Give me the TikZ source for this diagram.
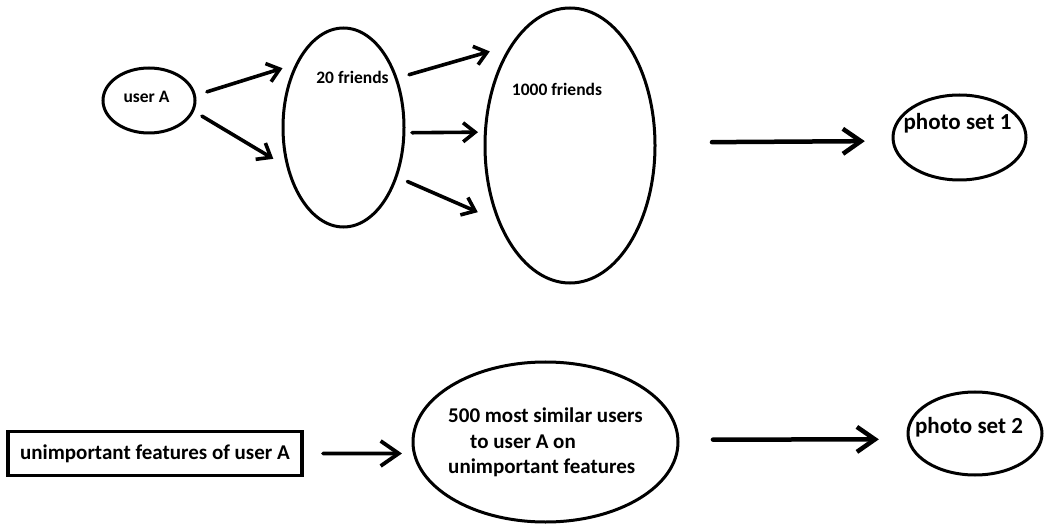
\documentclass[tikz,border=0pt]{standalone}
\usepackage{fontspec}
\setmainfont{Carlito}
\usetikzlibrary{shapes.geometric,arrows.meta}
\tikzset{
  ell/.style={ellipse, draw, line width=3bp, inner sep=0pt, outer sep=0pt},
  boxnode/.style={rectangle, draw, line width=3.5bp, inner sep=0pt, outer sep=0pt,
    font=\bfseries\fontsize{21bp}{25bp}\selectfont},
  lblsmall/.style={inner sep=0pt, font=\bfseries\fontsize{17.5bp}{21bp}\selectfont},
  lblbig/.style={inner sep=0pt, font=\bfseries\fontsize{23bp}{27bp}\selectfont},
  lblmid/.style={inner sep=0pt, align=left, font=\bfseries\fontsize{21bp}{25.5bp}\selectfont},
  sarr/.style={line width=3.6bp, line cap=round, -{Straight Barb[length=12bp,width=19bp]}},
  barr/.style={line width=4.5bp, line cap=round, -{Straight Barb[length=18bp,width=25bp]}}
}
\begin{document}
\begin{tikzpicture}[x=1bp,y=-1bp]
\useasboundingbox (0,0) rectangle (1044,525);
% shapes
\node[ell, minimum width=92bp, minimum height=65bp] (ua) at (149,100.5) {};
\node[ell, minimum width=121bp, minimum height=199bp] (f20) at (343.5,127.5) {};
\node[ell, minimum width=170bp, minimum height=275bp] (f1000) at (570,145.5) {};
\node[ell, minimum width=133bp, minimum height=85bp] (ps1) at (959.5,137.5) {};
\node[boxnode, minimum width=294bp, minimum height=44bp] (rect) at (155,453.5) {unimportant features of user A};
\node[ell, minimum width=265bp, minimum height=160bp] (e500) at (545.5,442) {};
\node[ell, minimum width=134bp, minimum height=83bp] (ps2) at (975,433.5) {};
% labels
\node[lblsmall] (tua) at (146.5,96.7) {user A};
\node[lblsmall] (t20) at (352.5,77) {20 friends};
\node[lblsmall] (t1000) at (557,89) {1000 friends};
\node[lblbig] (tps1) at (957.5,123) {photo set 1};
\node[lblbig] (tps2) at (969,427) {photo set 2};
\node[lblmid] (t500) at (545.5,442.5) {500 most similar users\\\hspace*{22bp}to user A on\\unimportant features};
% connectors
\draw[sarr, shorten <=13bp, shorten >=15.3bp] (ua.6) -- (f20.126);
\draw[sarr, shorten <=10.7bp, shorten >=17.3bp] (ua.-13) -- (f20.216);
\draw[sarr, shorten <=13.4bp, shorten >=23.1bp] (f20.43.5) -- (f1000.120.5);
\draw[sarr, shorten <=8.1bp, shorten >=7.4bp] (f20.-5.2) -- (f1000.171.6);
\draw[sarr, shorten <=12.3bp, shorten >=23.3bp] (f20.-43.5) -- (f1000.227.4);
\draw[barr, shorten <=57bp, shorten >=28.4bp] (f1000.2.4) -- (ps1.183.9);
\draw[barr, line width=3.8bp, shorten <=21bp, shorten >=12.4bp] (rect.east) -- (e500.185);
\draw[barr, shorten <=35bp, shorten >=29.8bp] (e500.1) -- (ps2.185.6);
\end{tikzpicture}
\end{document}
